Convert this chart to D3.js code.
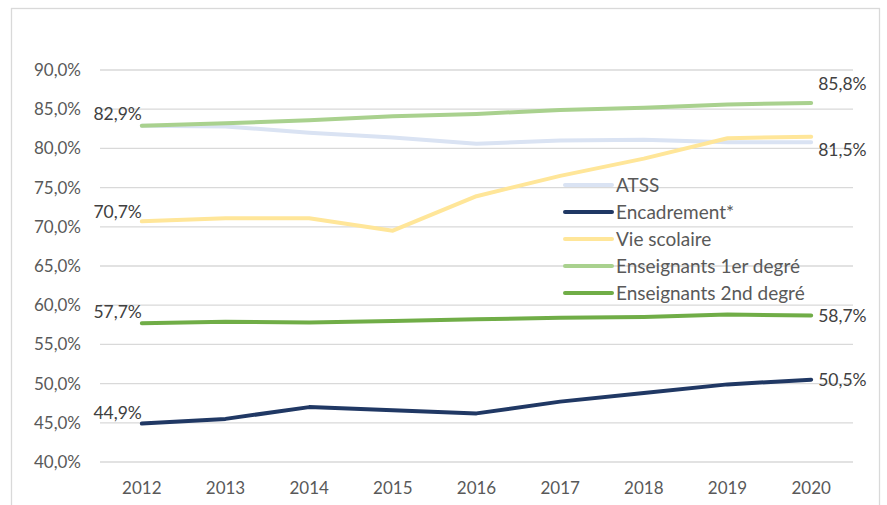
<!DOCTYPE html>
<html>
  <head>
    <meta charset="UTF-8">
    <script src="https://d3js.org/d3.v7.min.js"></script>
    <style>
      body { margin: 0; background: #fff; }
      svg { font-family: Lato, "Open Sans", sans-serif; }
      .grid line { stroke: #d9d9d9; stroke-width: 1.3; }
      .tick-label { font-size: 17px; fill: #595959; }
      .data-label { font-size: 17.5px; fill: #404040; }
      .legend-text { font-size: 19px; fill: #595959; }
      .line { fill: none; stroke-width: 4; stroke-linecap: round; stroke-linejoin: round; }
    </style>
  </head>
  <body>
    <div id="chart"></div>
    <script>
      var years = [2012, 2013, 2014, 2015, 2016, 2017, 2018, 2019, 2020];
      var yTicks = [40, 45, 50, 55, 60, 65, 70, 75, 80, 85, 90];

      var seriesNames = ["ATSS", "Encadrement*", "Vie scolaire", "Enseignants 1er degré", "Enseignants 2nd degré"];
      var seriesColors = ["#dae3f3", "#203864", "#ffe699", "#a9d18e", "#70ad47"];

      var atss = [82.9, 82.8, 82.0, 81.4, 80.6, 81.0, 81.1, 80.8, 80.8];
      var encadrement = [44.9, 45.5, 47.0, 46.6, 46.2, 47.7, 48.8, 49.9, 50.5];
      var vieScolaire = [70.7, 71.1, 71.1, 69.5, 73.9, 76.5, 78.7, 81.3, 81.5];
      var ens1er = [82.9, 83.2, 83.6, 84.1, 84.4, 84.9, 85.2, 85.6, 85.8];
      var ens2nd = [57.7, 57.9, 57.8, 58.0, 58.2, 58.4, 58.5, 58.8, 58.7];

      var seriesValues = [atss, encadrement, vieScolaire, ens1er, ens2nd];

      // labels at first / last point: [series index, text]
      var startLabels = [[3, "82,9%"], [2, "70,7%"], [4, "57,7%"], [1, "44,9%"]];
      var endLabels = [[3, "85,8%"], [2, "81,5%"], [4, "58,7%"], [1, "50,5%"]];

      var width = 887, height = 505;
      var plot = { left: 100, right: 853, top: 70, bottom: 462 };

      var svg = d3.select("#chart").append("svg")
        .attr("width", width)
        .attr("height", height);

      // chart frame
      svg.append("rect")
        .attr("x", 11.5).attr("y", 8.5)
        .attr("width", 868).attr("height", 510)
        .attr("fill", "#fff")
        .attr("stroke", "#d9d9d9")
        .attr("stroke-width", 1.3);

      var x = d3.scalePoint()
        .domain(years)
        .range([plot.left, plot.right])
        .padding(0.5);

      var y = d3.scaleLinear()
        .domain([40, 90])
        .range([plot.bottom, plot.top]);

      var fmt = function(v) { return d3.format(".1f")(v).replace(".", ",") + "%"; };

      /* Gridlines */
      svg.append("g").attr("class", "grid")
        .selectAll("line")
        .data(yTicks).enter()
        .append("line")
        .attr("x1", plot.left).attr("x2", plot.right)
        .attr("y1", d => y(d)).attr("y2", d => y(d));

      /* Y labels */
      svg.append("g")
        .selectAll("text")
        .data(yTicks).enter()
        .append("text")
        .attr("class", "tick-label")
        .attr("x", 81)
        .attr("y", d => y(d))
        .attr("dy", "0.35em")
        .attr("text-anchor", "end")
        .text(fmt);

      /* X labels */
      svg.append("g")
        .selectAll("text")
        .data(years).enter()
        .append("text")
        .attr("class", "tick-label")
        .attr("x", d => x(d))
        .attr("y", 494)
        .attr("text-anchor", "middle")
        .text(d => d);

      /* Lines */
      var line = d3.line()
        .x((d, i) => x(years[i]))
        .y(d => y(d));

      svg.append("g")
        .selectAll("path")
        .data(seriesValues).enter()
        .append("path")
        .attr("class", "line")
        .attr("d", d => line(d))
        .style("stroke", (d, i) => seriesColors[i]);

      /* Data labels */
      var startOffsets = { 3: -12, 2: -9, 4: -11, 1: -11 };
      svg.append("g")
        .selectAll("text")
        .data(startLabels).enter()
        .append("text")
        .attr("class", "data-label")
        .attr("x", x(years[0]) + 0)
        .attr("y", d => y(seriesValues[d[0]][0]) + startOffsets[d[0]])
        .attr("dy", "0.35em")
        .attr("text-anchor", "end")
        .text(d => d[1]);

      var endOffsets = { 3: -19, 2: 13, 4: 0, 1: 0 };
      var last = years.length - 1;
      svg.append("g")
        .selectAll("text")
        .data(endLabels).enter()
        .append("text")
        .attr("class", "data-label")
        .attr("x", x(years[last]) + 7)
        .attr("y", d => y(seriesValues[d[0]][last]) + endOffsets[d[0]])
        .attr("dy", "0.35em")
        .text(d => d[1]);

      /* Legend */
      var legend = svg.append("g")
        .attr("transform", "translate(565, 185)");

      var rows = legend.selectAll("g")
        .data(seriesNames).enter()
        .append("g")
        .attr("transform", (d, i) => `translate(0, ${i * 27})`);

      rows.append("line")
        .attr("x1", 0).attr("x2", 47)
        .attr("y1", 0).attr("y2", 0)
        .attr("stroke", (d, i) => seriesColors[i])
        .attr("stroke-width", 4)
        .attr("stroke-linecap", "round");

      rows.append("text")
        .attr("class", "legend-text")
        .attr("x", 51)
        .attr("dy", "0.35em")
        .text(d => d);
    </script>
  </body>
</html>
